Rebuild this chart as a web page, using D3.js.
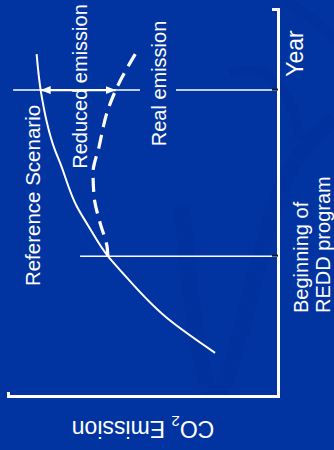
<!DOCTYPE html>
<html>
<head>
<meta charset="utf-8">
<script src="https://cdn.jsdelivr.net/npm/d3@7"></script>
<style>
  html, body { margin: 0; padding: 0; background: #0234a1; }
  svg { display: block; }
  text { font-family: "Liberation Sans", Arial, Helvetica, sans-serif; fill: #ffffff; }
</style>
</head>
<body>
<script>
// Emission pathways over time (arbitrary units on both axes)
const refYears     = [11.4, 20.4, 32.8, 36.4, 44.4, 49.1, 60.5, 63.8, 79.3, 88.6];
const refEmission  = [23.3, 41.1, 58.5, 63.0, 70.4, 74.4, 80.7, 82.6, 87.9, 89.4];

const realYears    = [36.4, 38.8, 45.0, 51.7, 57.9, 64.6, 74.2, 79.3, 88.9];
const realEmission = [63.0, 63.3, 65.9, 68.1, 68.5, 66.3, 63.0, 60.1, 52.6];

// Key years: start of the REDD programme, and the year where the reduction is measured
const markerYears  = [36.4, 79.3];
const markerTops   = [73.3, 98.1];   // how high each guide line reaches (emission units)

const labels = {
  reference: "Reference Scenario",
  reduced: "Reduced emission",
  real: "Real emission",
  xAxis: "Year",
  yAxis: ["CO", "2", " Emission"],
  start: ["Beginning of", "REDD program"]
};

const W = 334, H = 450;
const svg = d3.select("body").append("svg").attr("width", W).attr("height", H);

// faint background swirls of the slide
const bg = svg.append("g").attr("fill", "none").attr("stroke", "#012e98").attr("stroke-opacity", 0.45);
bg.append("path").attr("stroke-width", 16)
  .attr("d", "M182,205 C190,300 200,380 212,392 C228,400 240,330 262,250 C275,200 290,150 334,120");
bg.append("path").attr("stroke-width", 10)
  .attr("d", "M282,0 C300,10 318,20 334,40");
bg.append("path").attr("stroke-width", 10)
  .attr("d", "M230,75 C260,60 290,80 300,140");

// The chart is laid out in a normal (year → right, emission → up) frame and turned a quarter turn.
const g = svg.append("g").attr("transform", `translate(0,${H}) rotate(-90)`);

const x = d3.scaleLinear().domain([0, 100]).range([53, 440]);
const y = d3.scaleLinear().domain([0, 100]).range([278, 8]);

const refData  = refYears.map((t, i) => [t, refEmission[i]]);
const realData = realYears.map((t, i) => [t, realEmission[i]]);

// text labels
const font = 20;
g.append("text").attr("x", 254.5).attr("y", 40).attr("text-anchor", "middle")
  .attr("font-size", 20.5).text(labels.reference);
g.append("text").attr("x", 363.5).attr("y", 86.5).attr("text-anchor", "middle")
  .attr("font-size", font).text(labels.reduced);
const realLabel = g.append("text").attr("x", 366.5).attr("y", 166).attr("text-anchor", "middle")
  .attr("font-size", font).text(labels.real);
g.append("text").attr("x", 396.5).attr("y", 303).attr("text-anchor", "middle")
  .attr("font-size", 23).text(labels.xAxis);
labels.start.forEach((s, i) => {
  g.append("text").attr("x", 137).attr("y", 308 + i * 22).attr("text-anchor", "start")
    .attr("font-size", font).text(s);
});
const yl = g.append("text").attr("transform", "translate(29,143) rotate(-90)")
  .attr("text-anchor", "middle").attr("font-size", 23);
yl.append("tspan").text(labels.yAxis[0]);
yl.append("tspan").attr("font-size", 15).attr("dy", 5).text(labels.yAxis[1]);
yl.append("tspan").attr("dy", -5).text(labels.yAxis[2]);

// guide lines at the key years; the later one is broken around the "Real emission" label
const bb = realLabel.node().getBBox();
const gapLow = y.invert(bb.y + bb.height + 6);
const gapHigh = y.invert(bb.y - 8);
const guideSegs = [
  [markerYears[0], 0, markerTops[0]],
  [markerYears[1], 0, gapLow],
  [markerYears[1], gapHigh, markerTops[1]]
];
g.selectAll("line.guide").data(guideSegs).join("line")
  .attr("class", "guide")
  .attr("x1", d => x(d[0])).attr("x2", d => x(d[0]))
  .attr("y1", d => y(d[1])).attr("y2", d => y(d[2]))
  .attr("stroke", "#ffffff").attr("stroke-width", 1.5);

// curves
const line = d3.line().x(d => x(d[0])).y(d => y(d[1])).curve(d3.curveMonotoneX);
g.append("path").datum(refData).attr("d", line)
  .attr("fill", "none").attr("stroke", "#ffffff").attr("stroke-width", 2);
g.append("path").datum(realData).attr("d", line)
  .attr("fill", "none").attr("stroke", "#ffffff").attr("stroke-width", 3.2)
  .attr("stroke-dasharray", "14,8");

// double-headed arrow showing the reduction
const defs = svg.append("defs");
defs.append("marker").attr("id", "head")
  .attr("viewBox", "0 0 10 8").attr("refX", 10).attr("refY", 4)
  .attr("markerWidth", 10).attr("markerHeight", 8)
  .attr("markerUnits", "userSpaceOnUse")
  .attr("orient", "auto-start-reverse")
  .append("path").attr("d", "M0,0 L10,4 L0,8 Z").attr("fill", "#ffffff");

const iArrowRef = refYears.indexOf(markerYears[1]);
const iArrowReal = realYears.indexOf(markerYears[1]);
g.append("line")
  .attr("x1", x(markerYears[1])).attr("x2", x(markerYears[1]))
  .attr("y1", y(refEmission[iArrowRef])).attr("y2", y(realEmission[iArrowReal]))
  .attr("stroke", "#ffffff").attr("stroke-width", 2.2)
  .attr("marker-start", "url(#head)").attr("marker-end", "url(#head)");

// axes
const xAxis = g.append("g").attr("transform", `translate(0,${y(0)})`)
  .call(d3.axisTop(x).tickValues(markerYears).tickSize(6).tickSizeOuter(6).tickFormat(""));
xAxis.select(".domain").attr("stroke", "#ffffff").attr("stroke-width", 3).attr("fill", "none");
xAxis.selectAll(".tick line").attr("stroke", "#15152a").attr("stroke-width", 2);

const yAxis = g.append("g").attr("transform", `translate(${x(0)},0)`)
  .call(d3.axisRight(y).tickValues([]).tickSizeOuter(5));
yAxis.select(".domain").attr("stroke", "#ffffff").attr("stroke-width", 3).attr("fill", "none");
</script>
</body>
</html>
